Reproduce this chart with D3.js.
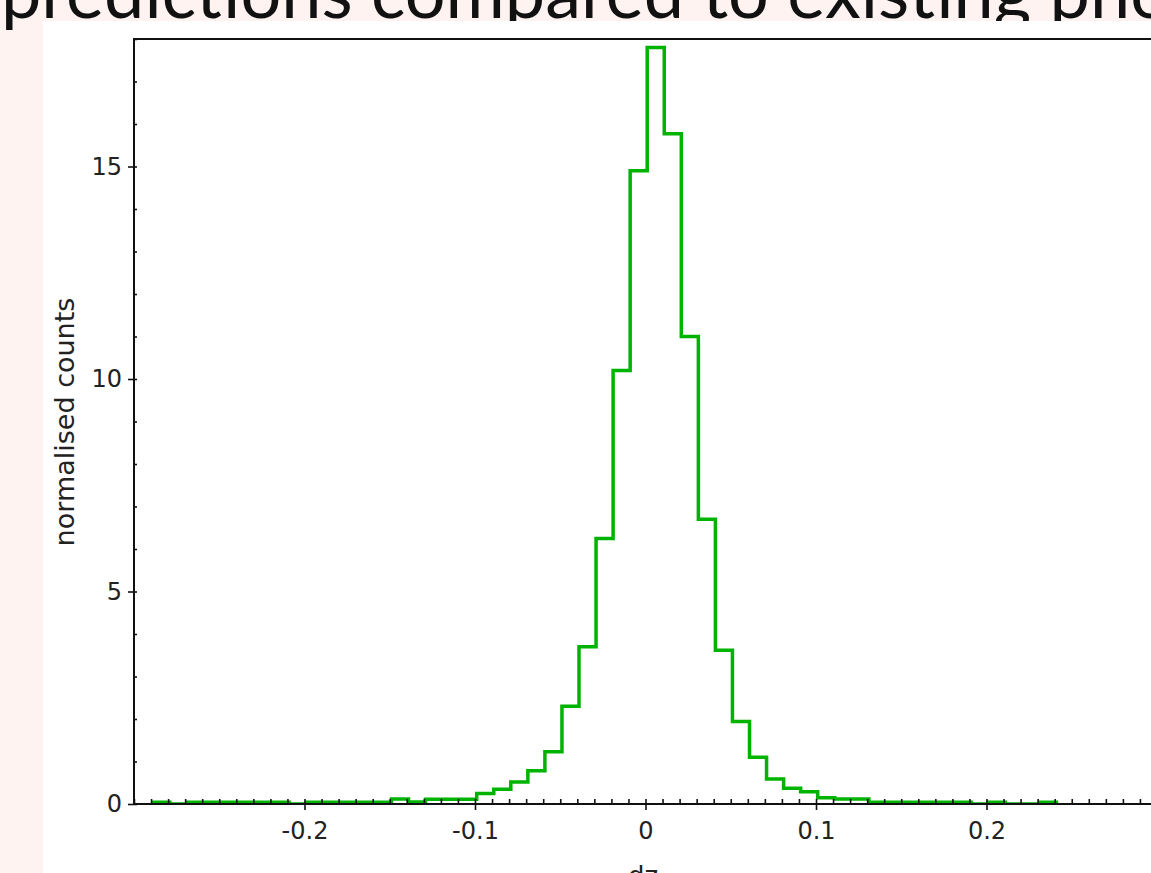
<!DOCTYPE html>
<html>
<head>
<meta charset="utf-8">
<script src="https://cdn.jsdelivr.net/npm/d3@7"></script>
<style>
	body { margin: 0; background: #fff3f1; }
	svg { display: block; }
</style>
</head>
<body>
<svg id="chart" width="1151" height="873"></svg>
<script>
"use strict";

// Histogram of dz, bin width 0.01, first bin starts at -0.289
var binStart = -0.289;
var binWidth = 0.01;
var binValues = [
	0.04, 0, 0.04, 0.04, 0.04, 0.04, 0.04, 0.04, 0,
	0.04, 0.04, 0.04, 0.04, 0.04, 0.12, 0.05, 0.11, 0.11,
	0.11, 0.25, 0.35, 0.52, 0.78, 1.23, 2.30, 3.70, 6.25,
	10.20, 14.90, 17.80, 15.77, 11.00, 6.70, 3.62, 1.94, 1.10,
	0.59, 0.37, 0.29, 0.15, 0.12, 0.12, 0.04, 0.04, 0.04,
	0.04, 0.04, 0.04, 0, 0.04, 0, 0, 0.04
];

var xTicks = [-0.2, -0.1, 0, 0.1, 0.2];
var xTickLabels = ["-0.2", "-0.1", "0", "0.1", "0.2"];
var yTicks = [0, 5, 10, 15];
var xMinorTicks = d3.range(-30, 31).map(function(i) { return i / 100; });
var yMinorTicks = d3.range(0, 19);

var titleText = "predictions compared to existing photometric redshifts";
var xLabel = "dz";
var yLabel = "normalised counts";

var svg = d3.select("#chart");

// Slide title (partly cut off at the top)
svg.append("text").attr("x", 1).attr("y", 18)
	.style("font-family", "Lato, 'Noto Sans', sans-serif").style("font-size", "72px")
	.style("fill", "#111").text(titleText);

// White plot image
svg.append("rect").attr("x", 43).attr("y", 21).attr("width", 1108).attr("height", 852)
	.style("fill", "#fff");

var plot = { left: 134, right: 1157, top: 39, bottom: 804 };

var x = d3.scaleLinear().domain([-0.3, 0.3]).range([plot.left, plot.right]);
var y = d3.scaleLinear().domain([0, 18]).range([plot.bottom, plot.top]);

var tickFont = "'DejaVu Sans', sans-serif";

// Clip for the histogram
svg.append("clipPath").attr("id", "plotClip").append("rect")
	.attr("x", plot.left).attr("y", plot.top)
	.attr("width", plot.right - plot.left).attr("height", plot.bottom - plot.top - 1);

// Histogram outline
var pts = [{ x: binStart, v: 0 }];
binValues.forEach(function(v, i) { pts.push({ x: binStart + i * binWidth, v: v }); });
pts.push({ x: binStart + binValues.length * binWidth, v: binValues[binValues.length - 1] });
pts.push({ x: binStart + binValues.length * binWidth, v: 0 });

var line = d3.line().x(function(d) { return x(d.x); }).y(function(d) { return y(d.v); })
	.curve(d3.curveStepAfter);

svg.append("path").datum(pts).attr("d", line).attr("clip-path", "url(#plotClip)")
	.style("fill", "none").style("stroke", "#00b300").style("stroke-width", 3.5)
	.style("stroke-linejoin", "miter");

// Frame lines
var frame = svg.append("g").style("stroke", "#111").style("stroke-width", 2);
frame.append("line").attr("x1", plot.left).attr("x2", plot.left).attr("y1", plot.top - 1).attr("y2", plot.bottom + 1);
frame.append("line").attr("x1", plot.left).attr("x2", plot.right).attr("y1", plot.top).attr("y2", plot.top);
frame.append("line").attr("x1", plot.left).attr("x2", plot.right).attr("y1", plot.bottom).attr("y2", plot.bottom);

function styleAxis(g) {
	g.select(".domain").remove();
	g.selectAll(".tick line").style("stroke", "#111").style("stroke-width", 1.6);
	g.selectAll(".tick text").style("font-family", tickFont).style("font-size", "24px")
		.style("fill", "#222");
}

// Minor ticks (inside)
svg.append("g").attr("transform", "translate(0," + plot.bottom + ")")
	.call(d3.axisTop(x).tickValues(xMinorTicks).tickSize(5).tickFormat(""))
	.call(styleAxis);
svg.append("g").attr("transform", "translate(" + plot.left + ",0)")
	.call(d3.axisRight(y).tickValues(yMinorTicks).tickSize(3).tickFormat(""))
	.call(styleAxis);

// Major ticks with labels (outside)
svg.append("g").attr("transform", "translate(0," + plot.bottom + ")")
	.call(d3.axisBottom(x).tickValues(xTicks).tickSize(6).tickPadding(12)
		.tickFormat(function(d, i) { return xTickLabels[i]; }))
	.call(styleAxis);
svg.append("g").attr("transform", "translate(" + plot.left + ",0)")
	.call(d3.axisLeft(y).tickValues(yTicks).tickSize(6).tickPadding(6))
	.call(styleAxis);

// Axis labels
svg.append("text").attr("x", 643).attr("y", 885).style("text-anchor", "middle")
	.style("font-family", tickFont).style("font-size", "26px").style("fill", "#222")
	.text(xLabel);
svg.append("text").attr("transform", "translate(74,422) rotate(-90)")
	.style("text-anchor", "middle")
	.style("font-family", tickFont).style("font-size", "27px").style("fill", "#222")
	.text(yLabel);
</script>
</body>
</html>
